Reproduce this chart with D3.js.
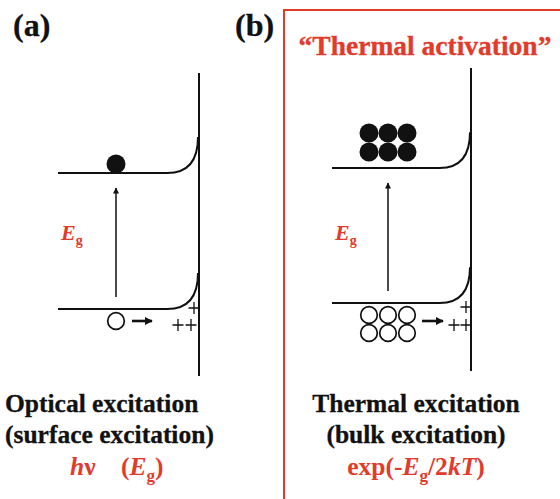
<!DOCTYPE html>
<html>
<head>
<meta charset="utf-8">
<script src="https://cdn.jsdelivr.net/npm/d3@7"></script>
<style>
  html, body { margin: 0; padding: 0; background: #fff; }
  svg { display: block; }
  text { font-family: "Liberation Serif", "DejaVu Serif", serif; font-weight: bold; }
</style>
</head>
<body>
<div id="chart"></div>
<script>
// band diagram data (energies in units of Eg, x from bulk 0 to surface 1)
const panelLabels = ["(a)", "(b)"];
const bandEnergies = [1, 0];              // conduction band, valence band
const bendStart = 0.78;                   // where bending begins (fraction of width)
const bendHeight = 0.265;                 // upward band bending at surface
const electronGrid = [[1, 1], [2, 3]];    // rows, cols per panel
const holeGrid = [[1, 1], [2, 3]];
const captionLine1 = ["Optical excitation", "Thermal excitation"];
const captionLine2 = ["(surface excitation)", "(bulk excitation)"];
const titleText = "\u201CThermal activation\u201D";
// formula pieces: [text, italic, subscript]
const formulas = [
    [["h", true, false], ["\u03BD", false, false], ["\u00A0\u00A0\u00A0\u00A0(", false, false], ["E", true, false], ["g", false, true], [")", false, false]],
    [["exp(-", false, false], ["E", true, false], ["g", false, true], ["/2", false, false], ["kT", true, false], [")", false, false]]
];

const red = "#e23a2b";
const W = 560, H = 499;

// layout per panel
const layout = [
    { x0: 58, surf: 199, top: 73, bottom: 376, vb: 309, cb: 173, cx: 116, labelX: 13, egX: 61,
      eOff: [-9, 19], hOff: [12, 18], harrow: [132, 152, 321],
      plus: [[194, 308], [178, 325], [191, 325]],
      capX: 5, capAnchor: "start", fX: 70, fAnchor: "start" },
    { x0: 332, surf: 471, top: 68, bottom: 371, vb: 303, cb: 168, cx: 388, labelX: 235, egX: 335,
      eOff: [-16, 19], hOff: [12, 18], harrow: [422, 443, 321],
      plus: [[466, 307], [454, 325], [466, 325]],
      capX: 416, capAnchor: "middle", fX: 416, fAnchor: "middle" }
];

const svg = d3.select("#chart").append("svg")
    .attr("width", W).attr("height", H);

const defs = svg.append("defs");
defs.append("marker").attr("id", "thin")
    .attr("viewBox", "0 0 10 10").attr("refX", 9).attr("refY", 5)
    .attr("markerWidth", 7).attr("markerHeight", 6).attr("markerUnits", "userSpaceOnUse")
    .attr("orient", "auto")
    .append("path").attr("d", "M0,0L10,5L0,10Z").attr("fill", "#111");
defs.append("marker").attr("id", "thick")
    .attr("viewBox", "0 0 10 10").attr("refX", 9).attr("refY", 5)
    .attr("markerWidth", 8).attr("markerHeight", 8).attr("markerUnits", "userSpaceOnUse")
    .attr("orient", "auto")
    .append("path").attr("d", "M0,0L10,5L0,10Z").attr("fill", "#111");

// red box around panel (b)
svg.append("rect")
    .attr("x", 284).attr("y", 10).attr("width", 320).attr("height", 520)
    .attr("fill", "none").attr("stroke", red).attr("stroke-width", 2);

svg.append("text")
    .attr("x", 425).attr("y", 55).attr("text-anchor", "middle")
    .attr("font-size", 27.5).attr("fill", red)
    .attr("stroke", red).attr("stroke-width", 0.3)
    .text(titleText);

layout.forEach((p, i) => {
    const g = svg.append("g");
    const x = d3.scaleLinear().domain([0, 1]).range([p.x0, p.surf - 1]);
    const y = d3.scaleLinear().domain([0, 1]).range([p.vb, p.cb]);

    g.append("text").attr("x", p.labelX).attr("y", 36)
        .attr("font-size", 32).attr("fill", "#111")
        .attr("stroke", "#111").attr("stroke-width", 0.3)
        .text(panelLabels[i]);

    // surface
    g.append("line")
        .attr("x1", p.surf).attr("x2", p.surf).attr("y1", p.top).attr("y2", p.bottom)
        .attr("stroke", "#111").attr("stroke-width", 2);

    // bands with bending
    bandEnergies.forEach(e => {
        const path = d3.path();
        path.moveTo(x(0), y(e));
        path.lineTo(x(bendStart), y(e));
        path.quadraticCurveTo(x(1), y(e), x(1), y(e + bendHeight));
        g.append("path").attr("d", path.toString())
            .attr("fill", "none").attr("stroke", "#111").attr("stroke-width", 2);
    });

    // excitation arrow
    g.append("line")
        .attr("x1", p.cx).attr("x2", p.cx)
        .attr("y1", y(0) - 12).attr("y2", y(1) + 15)
        .attr("stroke", "#111").attr("stroke-width", 1.5)
        .attr("marker-end", "url(#thin)");

    // Eg label
    const eg = g.append("text").attr("x", p.egX).attr("y", 240)
        .attr("font-size", 22).attr("fill", red);
    eg.append("tspan").attr("font-style", "italic").text("E");
    eg.append("tspan").attr("font-size", 14).attr("dy", 5).text("g");

    // electrons
    const [er, ec] = electronGrid[i];
    const eCells = d3.cross(d3.range(er), d3.range(ec));
    g.selectAll(".e").data(eCells).join("circle")
        .attr("cx", d => p.cx + (d[1] - (ec - 1) / 2) * 19)
        .attr("cy", d => y(1) + p.eOff[0] - d[0] * p.eOff[1])
        .attr("r", 9.5).attr("fill", "#111");

    // holes
    const [hr, hc] = holeGrid[i];
    const hCells = d3.cross(d3.range(hr), d3.range(hc));
    g.selectAll(".h").data(hCells).join("circle")
        .attr("cx", d => p.cx + (d[1] - (hc - 1) / 2) * 19)
        .attr("cy", d => y(0) + p.hOff[0] + d[0] * p.hOff[1])
        .attr("r", 8.3).attr("fill", "#fff").attr("stroke", "#111").attr("stroke-width", 1.7);

    // hole drift arrow
    g.append("line")
        .attr("x1", p.harrow[0]).attr("x2", p.harrow[1])
        .attr("y1", p.harrow[2]).attr("y2", p.harrow[2])
        .attr("stroke", "#111").attr("stroke-width", 2.6)
        .attr("marker-end", "url(#thick)");

    // surface positive charges
    p.plus.forEach(([px, py]) => {
        g.append("path")
            .attr("d", `M${px - 5.5},${py}H${px + 5.5}M${px},${py - 6}V${py + 6}`)
            .attr("stroke", "#111").attr("stroke-width", 1.3);
    });

    // captions
    g.append("text").attr("x", p.capX).attr("y", 412).attr("text-anchor", p.capAnchor)
        .attr("font-size", 25.5).attr("fill", "#111")
        .attr("stroke", "#111").attr("stroke-width", 0.3)
        .text(captionLine1[i]);
    g.append("text").attr("x", p.capX).attr("y", 443).attr("text-anchor", p.capAnchor)
        .attr("font-size", 25.5).attr("fill", "#111")
        .attr("stroke", "#111").attr("stroke-width", 0.3)
        .text(captionLine2[i]);

    const f = g.append("text").attr("x", p.fX).attr("y", 475).attr("text-anchor", p.fAnchor)
        .attr("font-size", 25.5).attr("fill", red);
    let sub = false;
    formulas[i].forEach(([t, it, s]) => {
        const ts = f.append("tspan").text(t);
        if (it) ts.attr("font-style", "italic");
        if (s && !sub) { ts.attr("dy", 6).attr("font-size", 17); sub = true; }
        else if (!s && sub) { ts.attr("dy", -6); sub = false; }
    });
});
</script>
</body>
</html>
